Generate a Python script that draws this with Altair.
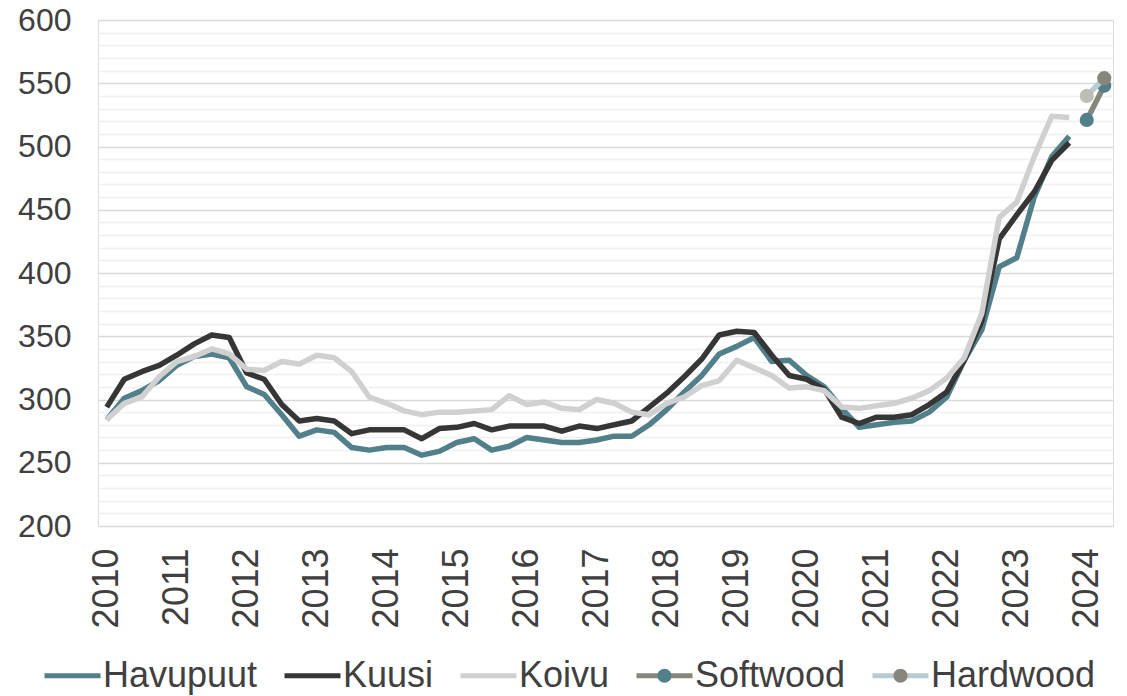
import altair as alt
import pandas as pd

# ---- data ----
years = list(range(2010, 2025))
quarters = [f"{y}Q{q}" for y in years for q in range(1, 5)][:58]  # 2010Q1 .. 2024Q2

havupuut = [284, 301, 307, 315, 327, 334, 336, 333, 310, 304, 288, 271, 276, 274, 262, 260,
            262, 262, 256, 259, 266, 269, 260, 263, 270, 268, 266, 266, 268, 271, 271, 280,
            292, 306, 319, 336, 342, 349, 330, 331, 319, 310, 293, 278, 280, 282, 283, 290,
            302, 331, 355, 405, 412, 460, 492, 508]
kuusi = [294, 316, 322, 327, 335, 344, 351, 349, 321, 316, 296, 283, 285, 283, 273, 276,
         276, 276, 269, 277, 278, 281, 276, 279, 279, 279, 275, 279, 277, 280, 283, 294,
         305, 318, 332, 351, 354, 353, 335, 319, 316, 308, 286, 281, 286, 286, 288, 296,
         306, 331, 362, 427, 446, 464, 489, 503]
koivu = [284, 297, 302, 318, 330, 334, 340, 336, 324, 323, 330, 328, 335, 333, 322, 302,
         297, 291, 288, 290, 290, 291, 292, 303, 296, 298, 293, 292, 300, 297, 290, 288,
         297, 302, 311, 315, 331, 325, 319, 309, 310, 307, 294, 293, 295, 297, 301, 307,
         317, 333, 368, 444, 456, 492, 524, 523]
forecast_q = ["2024Q1", "2024Q2"]
softwood = [521, 548]
hardwood = [540, 554]
hardwood_marker = ["Hardwood1", "Hardwood"]

series_names = ["Havupuut", "Kuusi", "Koivu", "Softwood", "Hardwood"]
line_colors = ["#52808a", "#363636", "#d0d0d0", "#86867a", "#b7cbd1"]

rows = []
for name, vals in [("Havupuut", havupuut), ("Kuusi", kuusi), ("Koivu", koivu)]:
    for q, v in zip(quarters, vals):
        rows.append({"q": q, "series": name, "value": v, "marker": name})
for q, v in zip(forecast_q, softwood):
    rows.append({"q": q, "series": "Softwood", "value": v, "marker": "Softwood"})
for q, v, m in zip(forecast_q, hardwood, hardwood_marker):
    rows.append({"q": q, "series": "Hardwood", "value": v, "marker": m})
df = pd.DataFrame(rows)

TEXT = "#404040"
FONT = "Liberation Sans"

x_enc = alt.X(
    "q:O",
    scale=alt.Scale(type="point", domain=quarters, padding=0.5),
    axis=alt.Axis(
        values=[q for q in quarters if q.endswith("Q1")],
        labelExpr="slice(datum.label, 0, 4)",
        labelAngle=270, labelAlign="right", labelBaseline="middle",
        labelFontSize=36, labelColor=TEXT, labelFont=FONT, labelPadding=22,
        ticks=False, domain=False, grid=False, labelOverlap=False, title=None,
    ),
    title=None,
)
y_enc = alt.Y(
    "value:Q",
    scale=alt.Scale(domain=[200, 600], nice=False, zero=False),
    axis=alt.Axis(
        values=list(range(200, 601, 10)),
        labelExpr="datum.value % 50 === 0 ? datum.label : ''",
        gridColor={"condition": {"test": "datum.value % 50 === 0", "value": "#d9d9d9"},
                   "value": "#f0f0f0"},
        gridWidth=1.4,
        labelFontSize=32, labelColor=TEXT, labelFont=FONT, labelPadding=27,
        ticks=False, domain=False, labelOverlap=False, labelBound=False, title=None,
    ),
    title=None,
)

LEG_X = -56
LEG_Y = 625
legend_common = dict(
    orient="none", legendX=LEG_X, legendY=LEG_Y, direction="horizontal", columns=5,
    title=None, symbolSize=3136, symbolStrokeWidth=5,
    labelFontSize=36, labelFont=FONT, labelOffset=0,
    columnPadding=16, padding=0, labelLimit=0, values=series_names,
)
legend_lines = alt.Legend(symbolType="M-1,0L1,0", labelColor=TEXT, **legend_common)
dot_path = "M-1,0L1,0M-0.25,0A0.25,0.25,0,1,1,0.25,0A0.25,0.25,0,1,1,-0.25,0Z"
legend_dots = alt.Legend(symbolType=dot_path, symbolStrokeColor="transparent",
                         labelColor=TEXT, labelOpacity=0, **legend_common)

color_enc = alt.Color("series:N", scale=alt.Scale(domain=series_names, range=line_colors),
                      legend=legend_lines)
fill_enc = alt.Fill(
    "marker:N",
    scale=alt.Scale(domain=series_names + ["Hardwood1"],
                    range=["transparent", "transparent", "transparent",
                           "#52808a", "#86867a", "#bdbdb7"]),
    legend=legend_dots,
)

base = alt.Chart(df)


def line_layer(name):
    return base.transform_filter(alt.datum.series == name).mark_line(
        strokeWidth=5.5, strokeJoin="round", strokeCap="butt"
    ).encode(x=x_enc, y=y_enc, color=color_enc)


def point_layer(name):
    return base.transform_filter(alt.datum.series == name).mark_circle(
        size=200, opacity=1
    ).encode(x=x_enc, y=y_enc, fill=fill_enc)


chart = alt.layer(
    line_layer("Havupuut"),
    line_layer("Kuusi"),
    line_layer("Koivu"),
    line_layer("Softwood"),
    point_layer("Softwood"),
    line_layer("Hardwood"),
    point_layer("Hardwood"),
).properties(
    width=1015, height=506,
    padding={"left": 90, "top": 12, "right": 6, "bottom": 172},
    autosize=alt.AutoSizeParams(type="none"),
    background="white",
).configure_view(stroke=None).configure(font=FONT)

chart.save("out.html", embed_options={"renderer": "svg", "actions": False})
